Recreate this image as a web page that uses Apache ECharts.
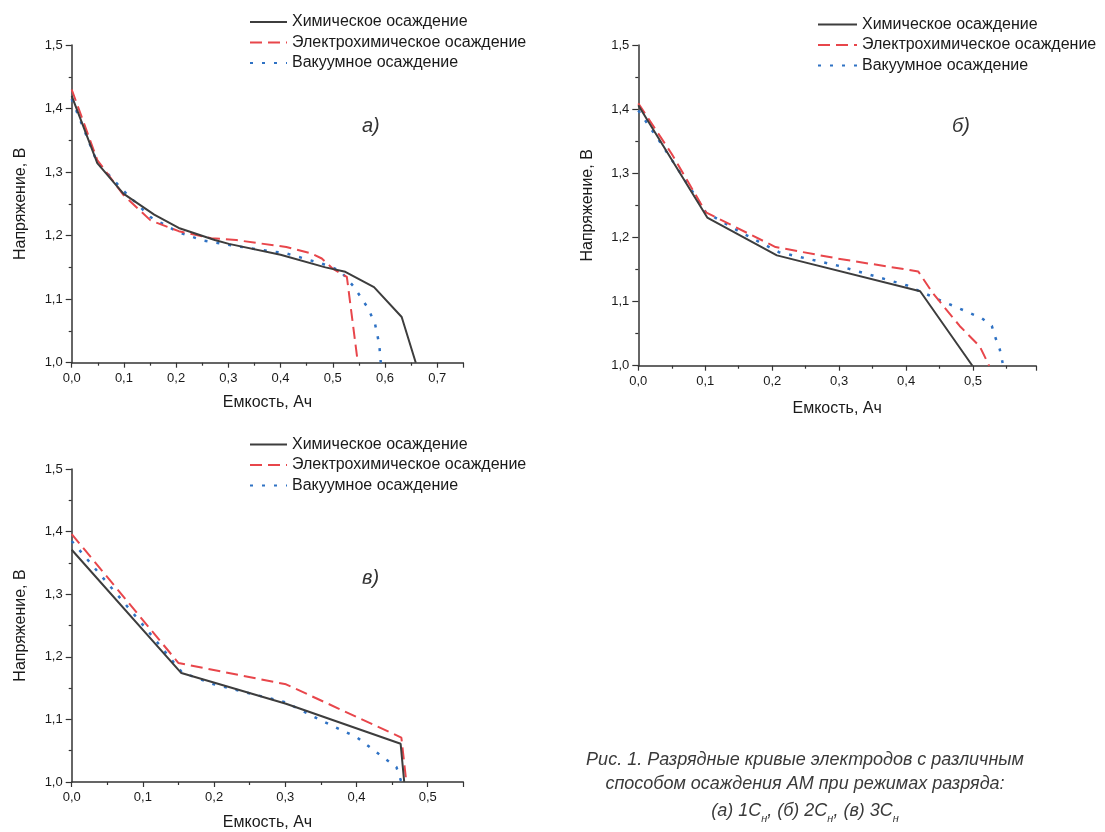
<!DOCTYPE html>
<html>
<head>
<meta charset="utf-8">
<script src="https://cdn.jsdelivr.net/npm/echarts@6/dist/echarts.min.js"></script>
<style>
  html, body { margin: 0; padding: 0; background: #fff; }
  #chart { width: 1105px; height: 832px; }
</style>
</head>
<body>
<div id="chart"></div>
<script>
// series names
var names = ['Химическое осаждение', 'Электрохимическое осаждение', 'Вакуумное осаждение']

// а) 1Сн  [емкость, напряжение]
var chemA = [[0, 1.42], [0.049, 1.314], [0.099, 1.266], [0.158, 1.233], [0.205, 1.212], [0.274, 1.193],
  [0.301, 1.187], [0.4, 1.17], [0.486, 1.15], [0.524, 1.143], [0.579, 1.119], [0.632, 1.072], [0.659, 1.0]]
var electroA = [[0, 1.43], [0.049, 1.319], [0.099, 1.264], [0.151, 1.224], [0.205, 1.207], [0.267, 1.196],
  [0.315, 1.193], [0.411, 1.182], [0.459, 1.172], [0.479, 1.164], [0.5, 1.148], [0.527, 1.135], [0.548, 1.0]]
var vacuumA = [[0, 1.415], [0.049, 1.315], [0.1, 1.27], [0.151, 1.229], [0.205, 1.205], [0.253, 1.192],
  [0.342, 1.18], [0.411, 1.172], [0.479, 1.156], [0.514, 1.145], [0.541, 1.119], [0.568, 1.085],
  [0.581, 1.061], [0.589, 1.029], [0.592, 1.0]]

// б) 2Сн
var chemB = [[0, 1.406], [0.103, 1.231], [0.207, 1.172], [0.421, 1.116], [0.499, 1.0]]
var electroB = [[0, 1.409], [0.05, 1.33], [0.101, 1.239], [0.205, 1.185], [0.298, 1.167], [0.418, 1.147],
  [0.44, 1.113], [0.48, 1.062], [0.51, 1.03], [0.524, 1.0]]
var vacuumB = [[0, 1.398], [0.033, 1.348], [0.075, 1.281], [0.101, 1.239], [0.153, 1.208], [0.21, 1.177],
  [0.298, 1.156], [0.402, 1.125], [0.442, 1.106], [0.478, 1.09], [0.513, 1.074], [0.528, 1.062],
  [0.534, 1.042], [0.54, 1.025], [0.545, 1.0]]

// в) 3Сн
var chemC = [[0, 1.371], [0.154, 1.174], [0.301, 1.125], [0.462, 1.061], [0.467, 1.0]]
var electroC = [[0, 1.396], [0.15, 1.19], [0.301, 1.156], [0.463, 1.071], [0.47, 1.0]]
var vacuumC = [[0, 1.385], [0.1, 1.251], [0.155, 1.175], [0.2, 1.156], [0.301, 1.127], [0.351, 1.098],
  [0.401, 1.071], [0.431, 1.045], [0.456, 1.024], [0.463, 1.0]]

var xMax = [0.75, 0.594, 0.55]
var yTicks = [1.0, 1.1, 1.2, 1.3, 1.4, 1.5]

var colors = ['#3d3d3d', '#e8464b', '#2f72c4']
var lineTypes = ['solid', [12, 6], [3, 9]]
var lineWidths = [2, 2, 2.5]

var chart = echarts.init(document.getElementById('chart'))

var fmt = function (v) { return v.toFixed(1).replace('.', ',') }
var font = 'Liberation Sans, Arial'

var grids = [
  { left: 71.7, top: 45, width: 391.6, height: 317.7 },
  { left: 638.3, top: 45, width: 397.7, height: 320.7 },
  { left: 71.7, top: 469, width: 391.6, height: 316.7 }
]
var xGaps = [32, 35, 33]

var xAxes = [], yAxes = []
for (var i = 0; i < 3; i++) {
  xAxes.push({
    type: 'value', gridIndex: i, min: 0, max: xMax[i], interval: 0.1,
    name: 'Емкость, Ач', nameLocation: 'middle', nameGap: xGaps[i],
    nameTextStyle: { fontSize: 16, color: '#1a1a1a', fontFamily: font },
    axisLine: { lineStyle: { color: '#333', width: 1.5 } },
    axisTick: { length: 5, lineStyle: { color: '#333', width: 1.2 } },
    minorTick: { show: true, splitNumber: 2, length: 3, lineStyle: { color: '#333', width: 1.2 } },
    axisLabel: { fontSize: 13, color: '#1a1a1a', margin: 9, fontFamily: font, formatter: fmt, showMaxLabel: false },
    splitLine: { show: false }
  })
  yAxes.push({
    type: 'value', gridIndex: i, min: yTicks[0], max: yTicks[yTicks.length - 1], interval: 0.1,
    name: 'Напряжение, В', nameLocation: 'middle', nameGap: 43,
    nameTextStyle: { fontSize: 16, color: '#1a1a1a', fontFamily: font },
    axisLine: { lineStyle: { color: '#333', width: 1.5 } },
    axisTick: { length: 6, lineStyle: { color: '#333', width: 1.2 } },
    minorTick: { show: true, splitNumber: 2, length: 3, lineStyle: { color: '#333', width: 1.2 } },
    axisLabel: { fontSize: 13, color: '#1a1a1a', margin: 9, fontFamily: font, formatter: fmt },
    splitLine: { show: false }
  })
}

var allData = [[chemA, electroA, vacuumA], [chemB, electroB, vacuumB], [chemC, electroC, vacuumC]]
var series = []
for (var g = 0; g < 3; g++) {
  for (var s = 0; s < 3; s++) {
    series.push({
      name: names[s], type: 'line', xAxisIndex: g, yAxisIndex: g,
      data: allData[g][s], symbol: 'none', showSymbol: false, smooth: false, z: 3 - s,
      lineStyle: { color: colors[s], type: lineTypes[s], width: lineWidths[s] },
      itemStyle: { color: colors[s] }
    })
  }
}

var legendPos = [[249, 12], [817, 14.5], [249, 434.5]]
var legends = legendPos.map(function (p, i) {
  return {
    orient: 'vertical', left: p[0], top: p[1], data: names, selectedMode: false,
    itemWidth: i === 1 ? 39 : 37, itemHeight: 14, itemGap: 0.5, padding: 0,
    itemStyle: { opacity: 0 },
    textStyle: { fontSize: 16, lineHeight: 20, color: '#1a1a1a', fontFamily: font }
  }
})

var capStyle = { fontSize: 18, fontStyle: 'italic', fontFamily: font, fill: '#3a3a3a', textAlign: 'center', textVerticalAlign: 'middle' }
var tagStyle = { fontSize: 20, fontStyle: 'italic', fontFamily: font, fill: '#333', textAlign: 'center', textVerticalAlign: 'middle' }

chart.setOption({
  backgroundColor: '#ffffff',
  animation: false,
  grid: grids,
  xAxis: xAxes,
  yAxis: yAxes,
  legend: legends,
  series: series,
  graphic: [
    { type: 'text', left: 362, top: 116, style: Object.assign({ text: 'а)' }, tagStyle) },
    { type: 'text', left: 952, top: 116, style: Object.assign({ text: 'б)' }, tagStyle) },
    { type: 'text', left: 362, top: 568, style: Object.assign({ text: 'в)' }, tagStyle) },
    { type: 'text', x: 805, y: 760, style: Object.assign({ text: 'Рис. 1. Разрядные кривые электродов с различным' }, capStyle) },
    { type: 'text', x: 805, y: 783.5, style: Object.assign({ text: 'способом осаждения АМ при режимах разряда:' }, capStyle) },
    {
      type: 'text', x: 805, y: 809,
      style: Object.assign({
        text: '{m|(а) 1С}{s|н}{m|, (б) 2С}{s|н}{m|, (в) 3С}{s|н}',
        rich: {
          m: { fontSize: 18, fontStyle: 'italic', fontFamily: font, fill: '#3a3a3a', lineHeight: 22, verticalAlign: 'bottom' },
          s: { fontSize: 11, fontStyle: 'italic', fontFamily: font, fill: '#3a3a3a', lineHeight: 11, verticalAlign: 'bottom', padding: [0, 0, -4, 0] }
        }
      }, capStyle)
    }
  ]
})
</script>
</body>
</html>
